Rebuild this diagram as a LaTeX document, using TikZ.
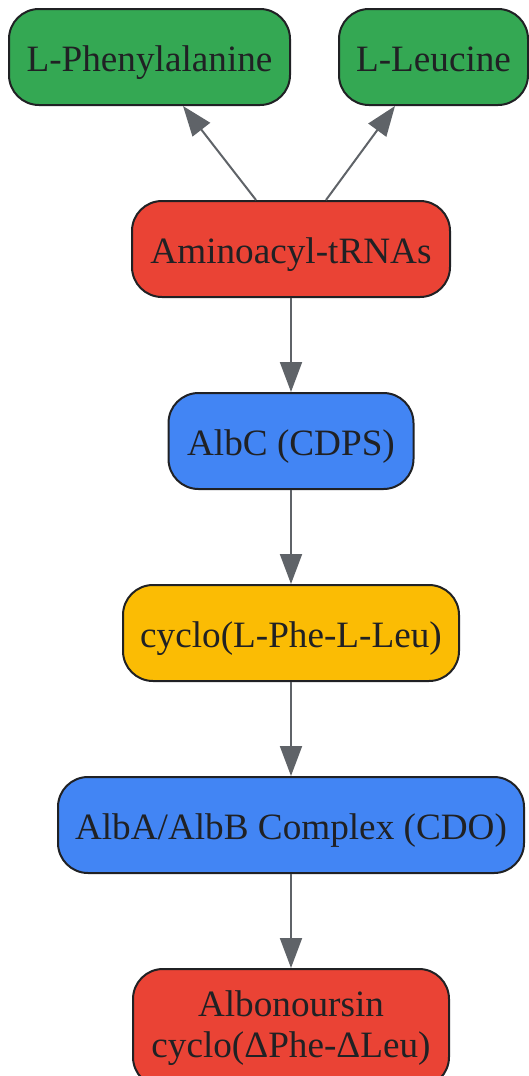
\documentclass[tikz,border=0pt]{standalone}
\usepackage{fontspec}
\setmainfont{Liberation Serif}
\usetikzlibrary{arrows.meta}
\definecolor{ggreen}{HTML}{34A853}
\definecolor{gred}{HTML}{EA4335}
\definecolor{gblue}{HTML}{4285F4}
\definecolor{gyellow}{HTML}{FBBC04}
\definecolor{edgec}{HTML}{202124}
\definecolor{txtc}{HTML}{202124}
\definecolor{arrowc}{HTML}{5F6368}
\begin{document}
\begin{tikzpicture}[x=1pt,y=-1pt,
  box/.style={draw=edgec, line width=2pt, rounded corners=30pt, font=\fontsize{37.2}{41}\selectfont,
    text=txtc, inner sep=0pt, align=center, minimum height=96pt},
  onebox/.style={box, text height=33pt, text depth=5pt},
  conn/.style={draw=arrowc, line width=2pt, -{Triangle[length=30pt,width=22pt]}}]
\useasboundingbox (0,0) rectangle (529,1076);
\node[onebox, fill=ggreen, minimum width=281pt] (phe) at (149.5,57) {L-Phenylalanine};
\node[onebox, fill=ggreen, minimum width=189pt] (leu) at (433.5,57) {L-Leucine};
\node[onebox, fill=gred, minimum width=318pt] (amino) at (291,249) {Aminoacyl-tRNAs};
\node[onebox, fill=gblue, minimum width=245pt] (albc) at (291,441) {AlbC (CDPS)};
\node[onebox, fill=gyellow, minimum width=336pt] (cyclo) at (291,633) {cyclo(L-Phe-L-Leu)};
\node[onebox, fill=gblue, minimum width=466pt] (alba) at (291,825) {AlbA/AlbB Complex (CDO)};
\node[box, fill=gred, minimum width=316pt, minimum height=118pt] (albo) at (291,1028) {Albonoursin\\cyclo(ΔPhe-ΔLeu)};
\draw[conn] ([xshift=-35pt]amino.north) -- ([xshift=33.5pt]phe.south);
\draw[conn] ([xshift=35pt]amino.north) -- ([xshift=-38.5pt]leu.south);
\draw[conn] (amino) -- (albc);
\draw[conn] (albc) -- (cyclo);
\draw[conn] (cyclo) -- (alba);
\draw[conn] (alba) -- (albo);
\end{tikzpicture}
\end{document}
